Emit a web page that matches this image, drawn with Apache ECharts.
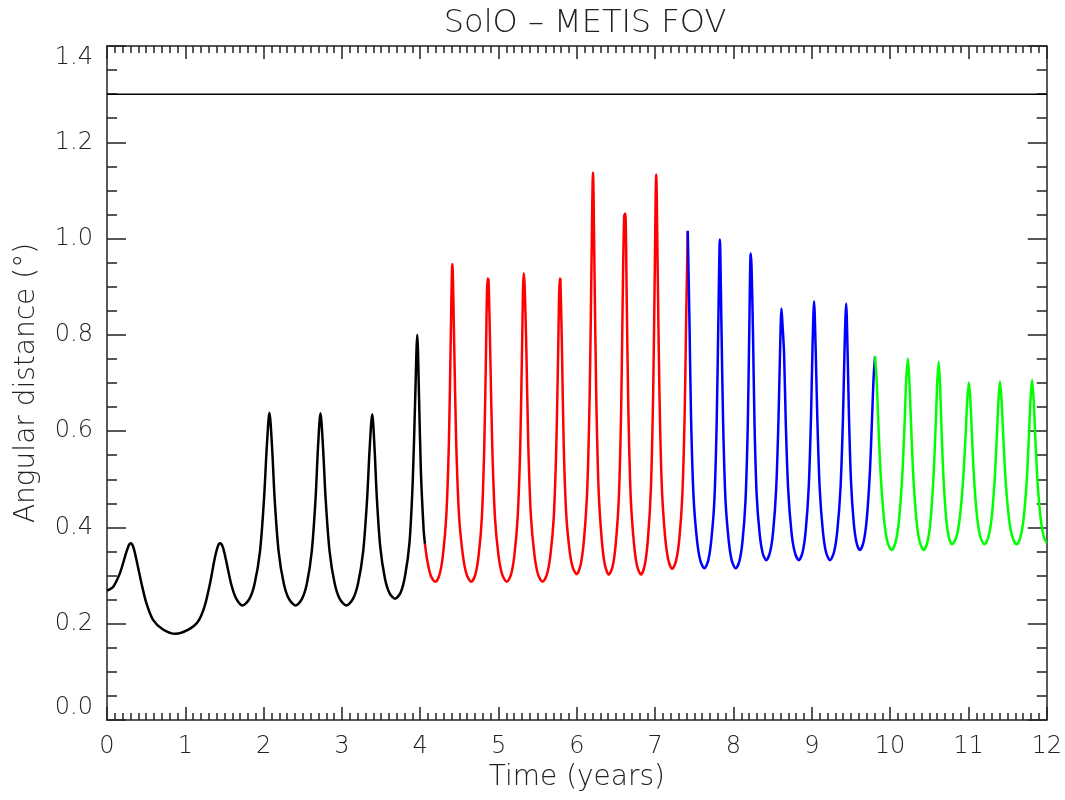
<!DOCTYPE html>
<html>
<head>
<meta charset="utf-8">
<title>SolO - METIS FOV</title>
<script src="https://cdn.jsdelivr.net/npm/echarts@6/dist/echarts.min.js"></script>
<style>
  html, body { margin: 0; padding: 0; background: #fff; }
  #main { width: 1065px; height: 800px; }
</style>
</head>
<body>
<div id="main"></div>
<script>
// [time in years, angular distance in degrees]
var blackData = [
  [0.000,0.269],[0.080,0.277],[0.165,0.305],[0.229,0.339],[0.271,0.360],[0.301,0.367],[0.334,0.360],[0.377,0.332],
  [0.440,0.284],[0.504,0.242],[0.588,0.208],[0.715,0.188],[0.876,0.179],[1.033,0.187],[1.160,0.204],[1.244,0.235],
  [1.316,0.284],[1.371,0.332],[1.414,0.360],[1.443,0.367],[1.477,0.360],[1.520,0.332],[1.583,0.284],[1.647,0.253],[1.731,0.238],
  [1.817,0.251],[1.885,0.283],[1.954,0.351],[2.005,0.459],[2.040,0.566],[2.074,0.638],[2.108,0.566],[2.141,0.459],[2.191,0.351],[2.258,0.283],[2.325,0.251],[2.409,0.238],
  [2.488,0.251],[2.552,0.283],[2.615,0.351],[2.663,0.459],[2.694,0.565],[2.726,0.637],[2.759,0.565],[2.792,0.459],[2.842,0.351],[2.908,0.283],[2.974,0.251],[3.057,0.238],
  [3.139,0.251],[3.205,0.283],[3.271,0.350],[3.321,0.458],[3.354,0.564],[3.387,0.635],[3.416,0.566],[3.445,0.464],[3.489,0.360],[3.548,0.295],[3.606,0.264],[3.679,0.252],
  [3.750,0.265],[3.806,0.299],[3.863,0.369],[3.905,0.499],[3.934,0.659],[3.962,0.800],[3.985,0.668],[4.008,0.518],[4.043,0.396],[4.060,0.366]
];

var redData = [
  [4.060,0.366],[4.090,0.331],[4.136,0.299],[4.194,0.287],
  [4.248,0.303],[4.291,0.344],[4.334,0.428],[4.367,0.584],[4.388,0.777],[4.410,0.947],[4.434,0.777],[4.458,0.584],[4.494,0.428],[4.543,0.344],[4.591,0.303],[4.651,0.287],
  [4.703,0.302],[4.745,0.341],[4.787,0.421],[4.818,0.571],[4.839,0.755],[4.860,0.917],[4.872,0.914],[4.895,0.755],[4.919,0.571],[4.954,0.421],[5.000,0.341],[5.047,0.302],[5.105,0.287],
  [5.159,0.302],[5.202,0.342],[5.245,0.424],[5.278,0.575],[5.299,0.763],[5.321,0.928],[5.333,0.904],[5.356,0.763],[5.379,0.575],[5.413,0.424],[5.459,0.342],[5.505,0.302],[5.562,0.287],
  [5.617,0.302],[5.661,0.341],[5.705,0.421],[5.738,0.571],[5.760,0.755],[5.782,0.917],[5.790,0.915],[5.811,0.759],[5.831,0.579],[5.862,0.434],[5.904,0.356],[5.945,0.318],[5.997,0.303],
  [6.049,0.323],[6.091,0.375],[6.133,0.481],[6.164,0.678],[6.185,0.923],[6.206,1.137],[6.226,0.922],[6.247,0.677],[6.277,0.480],[6.318,0.374],[6.358,0.322],[6.409,0.302],
  [6.458,0.320],[6.497,0.367],[6.536,0.462],[6.565,0.640],[6.584,0.859],[6.604,1.047],[6.618,1.052],[6.638,0.859],[6.658,0.640],[6.688,0.462],[6.729,0.367],[6.769,0.320],[6.819,0.302],
  [6.867,0.322],[6.906,0.373],[6.945,0.479],[6.974,0.676],[6.994,0.919],[7.013,1.133],[7.033,0.923],[7.054,0.683],[7.084,0.488],[7.125,0.384],[7.166,0.334],[7.217,0.314],
  [7.267,0.331],[7.307,0.374],[7.346,0.464],[7.376,0.630],[7.396,0.836],[7.416,1.016]
];

var blueData = [
  [7.416,1.016],[7.437,0.836],[7.458,0.630],[7.490,0.464],[7.533,0.375],[7.575,0.332],[7.628,0.315],
  [7.677,0.331],[7.717,0.374],[7.757,0.460],[7.786,0.622],[7.806,0.822],[7.826,0.998],[7.846,0.822],[7.867,0.622],[7.897,0.460],[7.938,0.374],[7.978,0.331],[8.029,0.315],
  [8.077,0.331],[8.115,0.371],[8.153,0.454],[8.182,0.609],[8.201,0.801],[8.220,0.969],[8.230,0.945],[8.249,0.805],[8.268,0.619],[8.296,0.468],[8.334,0.387],[8.372,0.347],[8.419,0.332],
  [8.467,0.349],[8.506,0.391],[8.545,0.480],[8.574,0.621],[8.594,0.761],[8.613,0.855],[8.625,0.824],[8.646,0.761],[8.667,0.621],[8.698,0.480],[8.740,0.391],[8.782,0.349],[8.834,0.332],
  [8.883,0.349],[8.922,0.393],[8.961,0.484],[8.990,0.630],[9.009,0.773],[9.029,0.870],[9.049,0.773],[9.070,0.630],[9.100,0.484],[9.141,0.393],[9.181,0.349],[9.232,0.332],
  [9.284,0.349],[9.325,0.392],[9.367,0.483],[9.398,0.627],[9.418,0.769],[9.439,0.865],[9.456,0.773],[9.474,0.636],[9.500,0.498],[9.535,0.411],[9.570,0.369],[9.613,0.353],
  [9.661,0.370],[9.700,0.414],[9.739,0.506],[9.768,0.620],[9.788,0.707],[9.807,0.755]
];

var greenData = [
  [9.807,0.755],[9.828,0.707],[9.849,0.620],[9.881,0.506],[9.924,0.414],[9.966,0.370],[10.019,0.353],
  [10.071,0.370],[10.112,0.413],[10.154,0.504],[10.185,0.617],[10.205,0.703],[10.226,0.751],[10.246,0.703],[10.267,0.617],[10.297,0.504],[10.338,0.413],[10.378,0.370],[10.429,0.353],
  [10.477,0.370],[10.515,0.412],[10.553,0.502],[10.582,0.612],[10.601,0.697],[10.620,0.744],[10.637,0.699],[10.654,0.616],[10.680,0.509],[10.714,0.423],[10.748,0.381],[10.790,0.365],
  [10.844,0.379],[10.887,0.416],[10.930,0.493],[10.963,0.588],[10.984,0.661],[11.006,0.701],[11.026,0.661],[11.046,0.588],[11.075,0.493],[11.115,0.416],[11.155,0.379],[11.204,0.365],
  [11.254,0.380],[11.294,0.416],[11.333,0.493],[11.363,0.589],[11.383,0.662],[11.403,0.703],[11.424,0.662],[11.445,0.589],[11.477,0.493],[11.520,0.416],[11.562,0.380],[11.615,0.365],
  [11.664,0.380],[11.704,0.417],[11.744,0.495],[11.773,0.591],[11.793,0.665],[11.813,0.706],[11.833,0.665],[11.853,0.591],[11.883,0.495],[11.923,0.417],[11.963,0.380],[12.000,0.368]
];

// FOV limit
var fovLimit = 1.3;
var limitData = [[0, fovLimit], [12, fovLimit]];

var xRange = [0, 12];
var yRange = [0, 1.4];

var axisColor = '#222';
var fontFam = 'DejaVu Sans';
var fontW = 200;

function xAxisStyle(pos, showLabel) {
  return {
    type: 'value', position: pos, min: xRange[0], max: xRange[1], interval: 1,
    axisLine: { show: true, onZero: false, lineStyle: { color: axisColor, width: 1.5 } },
    axisTick: { show: true, inside: true, length: 13, lineStyle: { color: axisColor, width: 1.5 } },
    minorTick: { show: true, splitNumber: 10, length: 7, lineStyle: { color: axisColor, width: 1.5 } },
    splitLine: { show: false },
    axisLabel: { show: showLabel, margin: 15, color: axisColor, fontFamily: fontFam, fontWeight: fontW, fontSize: 24 }
  };
}

function yAxisStyle(pos, showLabel) {
  return {
    type: 'value', position: pos, min: yRange[0], max: yRange[1], interval: 0.2,
    axisLine: { show: true, onZero: false, lineStyle: { color: axisColor, width: 1.5 } },
    axisTick: { show: true, inside: true, length: 19, lineStyle: { color: axisColor, width: 1.5 } },
    minorTick: { show: true, splitNumber: 4, length: 10, lineStyle: { color: axisColor, width: 1.5 } },
    splitLine: { show: false },
    axisLabel: {
      show: showLabel, margin: 14, color: axisColor, fontFamily: fontFam, fontWeight: fontW, fontSize: 24,
      verticalAlignMinLabel: 'bottom', verticalAlignMaxLabel: 'top',
      formatter: function (v) { return v.toFixed(1); }
    }
  };
}

function lineSeries(data, color, width) {
  return {
    type: 'line', data: data, xAxisIndex: 0, yAxisIndex: 0,
    showSymbol: false, symbol: 'none', smooth: 0.3,
    lineStyle: { color: color, width: width },
    silent: true
  };
}

var bottomX = xAxisStyle('bottom', true);
bottomX.name = 'Time (years)';
bottomX.nameLocation = 'middle';
bottomX.nameGap = 40;
bottomX.nameTextStyle = { color: axisColor, fontFamily: fontFam, fontWeight: fontW, fontSize: 28 };

var leftY = yAxisStyle('left', true);
leftY.name = 'Angular distance (°)';
leftY.nameLocation = 'middle';
leftY.nameGap = 66;
leftY.nameTextStyle = { color: axisColor, fontFamily: fontFam, fontWeight: fontW, fontSize: 28 };

var myChart = echarts.init(document.getElementById('main'), null, { renderer: 'canvas' });
myChart.setOption({
  backgroundColor: '#fff',
  animation: false,
  title: {
    text: 'SolO – METIS FOV',
    left: 580, top: 3, textAlign: 'center',
    textStyle: { color: axisColor, fontFamily: fontFam, fontSize: 32, fontWeight: fontW }
  },
  grid: { left: 107, right: 13, top: 46, bottom: 80 },
  xAxis: [bottomX, xAxisStyle('top', false)],
  yAxis: [leftY, yAxisStyle('right', false)],
  series: [
    lineSeries(limitData, '#000', 1.5),
    lineSeries(blackData, '#000', 2.5),
    lineSeries(redData, '#ff0000', 2.5),
    lineSeries(blueData, '#0000ff', 2.5),
    lineSeries(greenData, '#00ff00', 2.5)
  ]
});
</script>
</body>
</html>
